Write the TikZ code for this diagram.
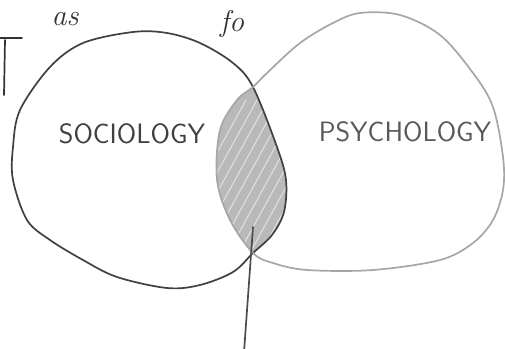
\documentclass[tikz,border=0pt]{standalone}
\begin{document}
\begin{tikzpicture}[x=1pt, y=-1pt, line cap=round, line join=round]
    \tikzset{
        pencil/.style={line width=1.7pt},
        label/.style={font=\fontsize{28}{30}\selectfont\sffamily, inner sep=0pt},
        scribble/.style={font=\fontsize{30}{32}\selectfont\itshape, inner sep=0pt, anchor=base}
    }
    \useasboundingbox (0,0) rectangle (505,348);
    \clip (0,0) rectangle (505,348);

    \def\socpath{plot[smooth cycle, tension=0.55] coordinates {
        (133,32) (167,33) (200,43) (233,63) (253,87) (277,147) (286,180)
        (284,212) (272,235) (253,253) (233,272) (200,285) (167,288)
        (117,277) (83,260) (50,240) (27,220) (13,180) (13,147) (20,110)
        (50,67) (83,43)}}
    \def\psypath{plot[smooth cycle, tension=0.55] coordinates {
        (253,87) (267,73) (300,43) (333,23) (360,13) (400,15) (440,35)
        (473,73) (493,107) (503,157) (503,190) (493,220) (473,243)
        (440,260) (373,270) (307,270) (273,263) (253,253) (230,220)
        (217,180) (220,130) (237,100)}}

    % shaded overlap
    \begin{scope}
        \clip \socpath;
        \clip \psypath;
        \fill[gray!55] (200,60) rectangle (300,280);
        \foreach \i in {-240,-229,...,160} {
            \draw[white!75!gray, line width=1.1pt] (200+\i,300) -- (310+\i,100);
        }
    \end{scope}

    % the two sets
    \draw[pencil, black!75] \socpath;
    \draw[pencil, gray!70] \psypath;

    \node[label, black!75] (soc) at (132,134) {SOCIOLOGY};
    \node[label, black!65] (psy) at (405,132) {PSYCHOLOGY};

    % pointer out of the overlap
    \coordinate (lens) at (253,227);
    \coordinate (tail) at (244,352);
    \draw[pencil, black!70] (lens) -- (tail);

    % text at the top
    \node[scribble, black!80] (as) at (65,25) {as};
    \node[scribble, black!80] (fo) at (232,31) {fo};
    \draw[pencil, black!80] (0,38) -- (22,38);
    \draw[pencil, black!80] (5,40) -- (4,95);
\end{tikzpicture}
\end{document}
